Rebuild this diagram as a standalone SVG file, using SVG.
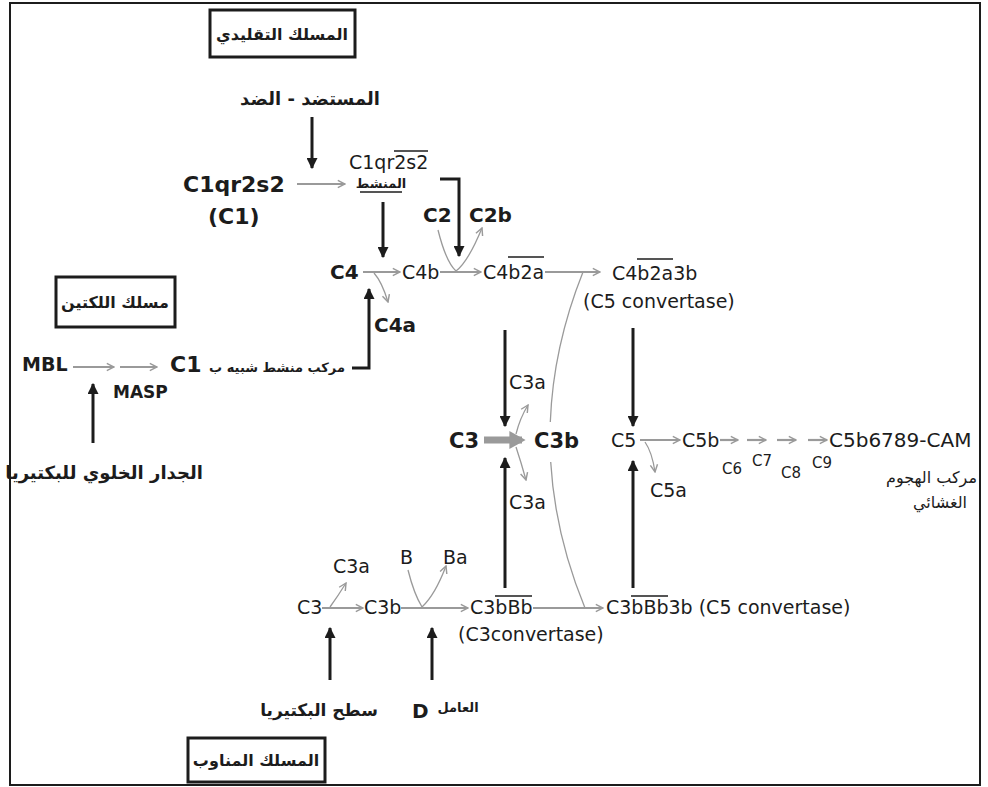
<svg xmlns="http://www.w3.org/2000/svg" width="988" height="787" viewBox="0 0 988 787">
<defs>
<style>
text{font-family:"DejaVu Sans","Noto Sans",sans-serif;fill:#1c1c1c}
.b{font-weight:bold}
.n{font-size:19px}
.bl{font-size:20px;font-weight:bold}
.ar{font-family:"DejaVu Sans",sans-serif;font-weight:bold;font-size:16px}
.blk{stroke:#1c1c1c;stroke-width:3;fill:none}
.gr{stroke:#9a9a9a;stroke-width:2.2;fill:none}
.thin{stroke:#9a9a9a;stroke-width:1.3;fill:none}
.box{fill:#fff;stroke:#1c1c1c;stroke-width:3}
.ol{stroke:#1c1c1c;stroke-width:1.5}
</style>
<marker id="ab" viewBox="0 0 10 10" refX="9" refY="5" markerWidth="11" markerHeight="11" markerUnits="userSpaceOnUse" orient="auto"><path d="M0,0 L10,5 L0,10 z" fill="#1c1c1c"/></marker>
<marker id="ag" viewBox="0 0 10 10" refX="9" refY="5" markerWidth="9" markerHeight="11" markerUnits="userSpaceOnUse" orient="auto"><path d="M1,1 L9,5 L1,9" fill="none" stroke="#9a9a9a" stroke-width="1.6"/></marker>
<marker id="agt" viewBox="0 0 10 10" refX="7" refY="5" markerWidth="18" markerHeight="20" markerUnits="userSpaceOnUse" orient="auto"><path d="M0,0 L9,5 L0,10 z" fill="#9a9a9a"/></marker>
</defs>
<rect x="0" y="0" width="988" height="787" fill="#fff"/>
<rect x="10" y="3" width="970" height="782" fill="none" stroke="#1c1c1c" stroke-width="2"/>

<g id="connectors">
<!-- classical -->
<line class="blk" x1="312" y1="117" x2="312" y2="168" marker-end="url(#ab)"/>
<line class="gr" x1="297" y1="184" x2="345" y2="184" marker-end="url(#ag)"/>
<line class="blk" x1="383" y1="202" x2="383" y2="257" marker-end="url(#ab)"/>
<path class="blk" d="M440,179 H459 V256" marker-end="url(#ab)"/>
<path class="thin" d="M438,230 Q446,262 456,271 Q468,262 482,228" marker-end="url(#ag)"/>
<line class="gr" x1="363" y1="272" x2="400" y2="272" marker-end="url(#ag)"/>
<line class="gr" x1="440" y1="272" x2="481" y2="272" marker-end="url(#ag)"/>
<line class="gr" x1="545" y1="272" x2="600" y2="272" marker-end="url(#ag)"/>
<path class="thin" d="M374,273 Q382,282 388,302" marker-end="url(#ag)"/>
<!-- lectin -->
<line class="gr" x1="73" y1="367" x2="114" y2="367" marker-end="url(#ag)"/>
<line class="gr" x1="120" y1="367" x2="157" y2="367" marker-end="url(#ag)"/>
<line class="blk" x1="93" y1="443" x2="93" y2="384" marker-end="url(#ab)"/>
<path class="blk" d="M352,368 H369 V289" marker-end="url(#ab)"/>
<!-- C3 / C5 -->
<path class="thin" d="M583,272 Q553.1,346.9 550.3,422"/>
<path class="thin" d="M550.7,462 Q555,534.9 585,608"/>
<line class="blk" x1="505" y1="330" x2="505" y2="426" marker-end="url(#ab)"/>
<line class="blk" x1="505" y1="588" x2="505" y2="458" marker-end="url(#ab)"/>
<line x1="484" y1="440" x2="522" y2="440" stroke="#9a9a9a" stroke-width="7" marker-end="url(#agt)"/>
<path class="thin" d="M516,434 Q520,418 528,405" marker-end="url(#ag)"/>
<path class="thin" d="M516,447 Q521,462 526,480" marker-end="url(#ag)"/>
<line class="blk" x1="633" y1="328" x2="633" y2="426" marker-end="url(#ab)"/>
<line class="blk" x1="633" y1="588" x2="633" y2="461" marker-end="url(#ab)"/>
<line class="gr" x1="640" y1="440" x2="680" y2="440" marker-end="url(#ag)"/>
<path class="thin" d="M645,442 Q652,452 655,472" marker-end="url(#ag)"/>
<line class="gr" x1="720" y1="440" x2="738" y2="440" marker-end="url(#ag)"/>
<line class="gr" x1="747" y1="440" x2="766" y2="440" marker-end="url(#ag)"/>
<line class="gr" x1="777" y1="440" x2="796" y2="440" marker-end="url(#ag)"/>
<line class="gr" x1="808" y1="440" x2="827" y2="440" marker-end="url(#ag)"/>
<!-- alternative -->
<line class="gr" x1="322" y1="608" x2="363" y2="608" marker-end="url(#ag)"/>
<path class="thin" d="M330,607 Q338,596 346,583" marker-end="url(#ag)"/>
<line class="gr" x1="401" y1="608" x2="468" y2="608" marker-end="url(#ag)"/>
<path class="thin" d="M408,570 Q414,594 422,607 Q435,595 446,566" marker-end="url(#ag)"/>
<line class="gr" x1="533" y1="608" x2="603" y2="608" marker-end="url(#ag)"/>
<line class="blk" x1="330" y1="680" x2="330" y2="628" marker-end="url(#ab)"/>
<line class="blk" x1="432" y1="680" x2="432" y2="628" marker-end="url(#ab)"/>
</g>

<g id="classical-title"><rect class="box" x="210" y="10" width="145" height="47"/><text class="ar" x="282" y="40" text-anchor="middle">المسلك التقليدي</text></g>
<g id="antigen-antibody"><text class="ar" x="310" y="105" text-anchor="middle" style="font-size:18px">المستضد - الضد</text></g>
<g id="c1"><text class="b" x="183" y="192" font-size="22">C1qr2s2</text><text class="b" x="208" y="224" font-size="22">(C1)</text></g>
<g id="c1-active"><text class="n" x="349" y="169">C1qr2s2</text><line class="ol" x1="394" y1="151" x2="428" y2="151"/><text class="ar" x="381" y="188" text-anchor="middle" style="font-size:13px">المنشط</text><line class="ol" x1="360" y1="192" x2="402" y2="192"/></g>
<g id="c2"><text class="bl" x="423" y="222">C2</text></g>
<g id="c2b"><text class="bl" x="469" y="222">C2b</text></g>
<g id="c4"><text class="bl" x="330" y="279">C4</text></g>
<g id="c4b"><text class="n" x="402" y="279">C4b</text></g>
<g id="c4a"><text class="bl" x="374" y="332">C4a</text></g>
<g id="c4b2a"><text class="n" x="483" y="279">C4b2a</text><line class="ol" x1="508" y1="257" x2="544" y2="257"/></g>
<g id="c4b2a3b"><text class="n" x="612" y="280">C4b2a3b</text><line class="ol" x1="637" y1="259" x2="673" y2="259"/><text class="n" x="583" y="308">(C5 convertase)</text></g>

<g id="lectin-title"><rect class="box" x="56" y="277" width="119" height="50"/><text class="ar" x="115" y="308" text-anchor="middle">مسلك اللكتين</text></g>
<g id="mbl"><text class="b" x="22" y="371" font-size="19">MBL</text></g>
<g id="masp"><text class="b" x="113" y="398" font-size="17">MASP</text></g>
<g id="c1-like"><text class="b" x="170" y="372" font-size="22">C1</text><text class="ar" x="345" y="372" text-anchor="end" style="font-size:13px">مركب منشط شبيه ب</text></g>
<g id="cell-wall"><text class="ar" x="104" y="479" text-anchor="middle" style="font-size:18px">الجدار الخلوي للبكتيريا</text></g>

<g id="c3"><text class="b" x="449" y="448" font-size="21">C3</text></g>
<g id="c3b"><text class="b" x="534" y="448" font-size="21">C3b</text></g>
<g id="c3a-top"><text class="n" x="509" y="389">C3a</text></g>
<g id="c3a-bottom"><text class="n" x="509" y="509">C3a</text></g>
<g id="c5"><text class="n" x="611" y="447">C5</text></g>
<g id="c5b"><text class="n" x="682" y="447">C5b</text></g>
<g id="c5a"><text class="n" x="650" y="497">C5a</text></g>
<g id="c6-c9"><text x="722" y="474" font-size="15">C6</text><text x="752" y="466" font-size="15">C7</text><text x="781" y="478" font-size="15">C8</text><text x="812" y="468" font-size="15">C9</text></g>
<g id="mac"><text x="829" y="447" font-size="20">C5b6789-CAM</text><text x="977" y="483" text-anchor="end" style="font-size:16px">مركب الهجوم</text><text x="940" y="508" text-anchor="middle" style="font-size:16px">الغشائي</text></g>

<g id="c3-alt"><text class="n" x="297" y="614">C3</text></g>
<g id="c3a-alt"><text class="n" x="333" y="573">C3a</text></g>
<g id="c3b-alt"><text class="n" x="364" y="614">C3b</text></g>
<g id="b"><text class="n" x="400" y="564">B</text></g>
<g id="ba"><text class="n" x="443" y="564">Ba</text></g>
<g id="c3bbb"><text class="n" x="470" y="614">C3bBb</text><line class="ol" x1="495" y1="596" x2="532" y2="596"/><text class="n" x="458" y="641">(C3convertase)</text></g>
<g id="c3bbb3b"><text class="n" x="606" y="614">C3bBb3b (C5 convertase)</text><line class="ol" x1="631" y1="596" x2="668" y2="596"/></g>
<g id="bacteria-surface"><text class="ar" x="319" y="716" text-anchor="middle" style="font-size:17px">سطح البكتيريا</text></g>
<g id="factor-d"><text class="b" x="412" y="718" font-size="20">D</text><text class="ar" x="458" y="712" text-anchor="middle" style="font-size:13px">العامل</text></g>
<g id="alternative-title"><rect class="box" x="188" y="738" width="137" height="44"/><text class="ar" x="256" y="766" text-anchor="middle">المسلك المناوب</text></g>
</svg>
